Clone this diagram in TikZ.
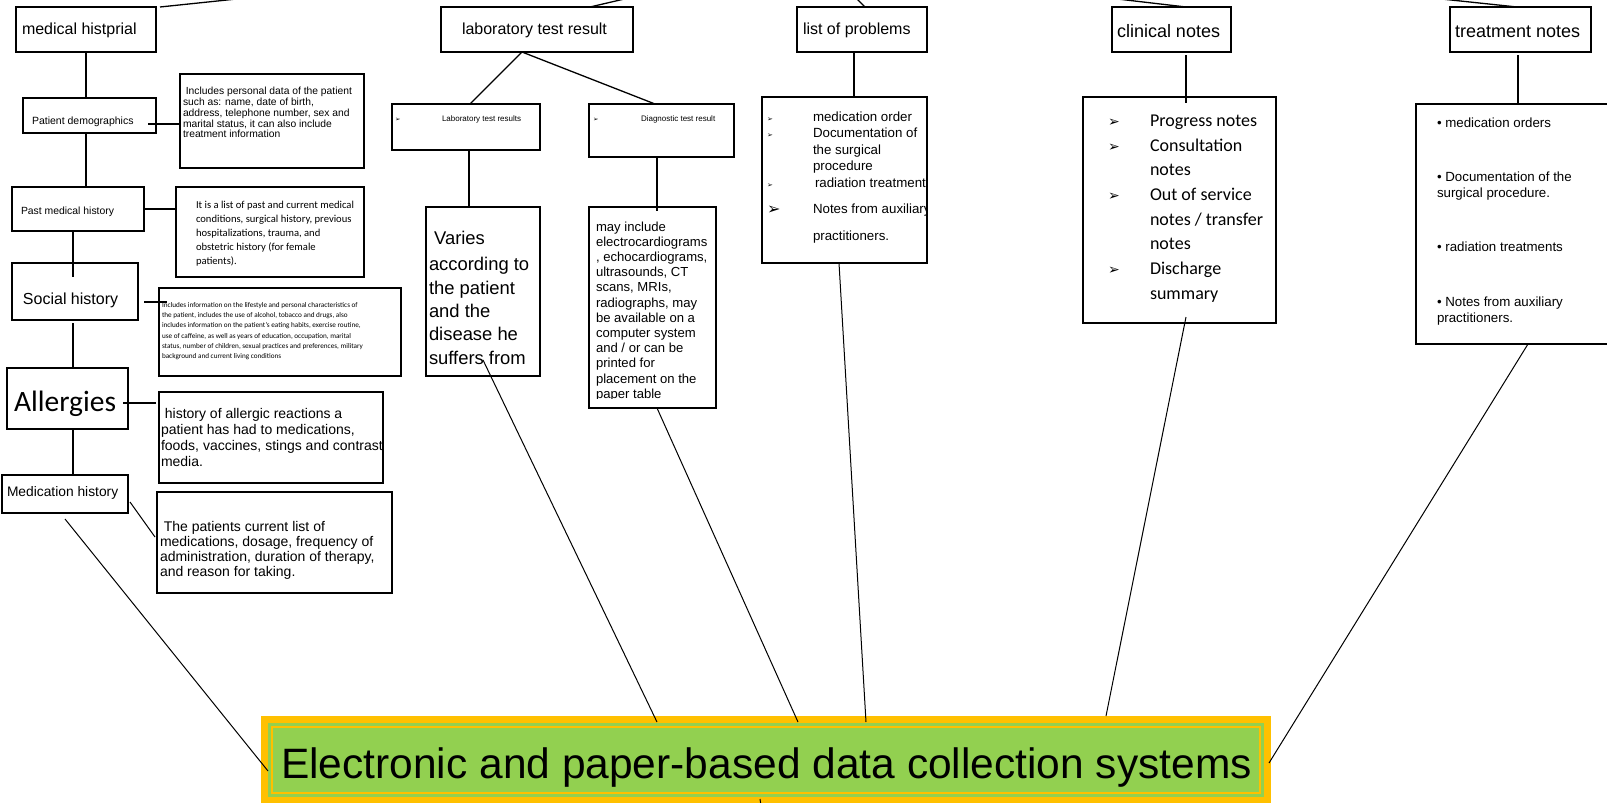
\documentclass[tikz,border=0pt]{standalone}
\usepackage{fontspec}
\setmainfont{Liberation Sans}
\newfontfamily\calf{Carlito}
\newfontfamily\djv{DejaVu Sans}
\usetikzlibrary{calc}
\definecolor{orgc}{HTML}{FFC000}
\definecolor{grnc}{HTML}{92D050}
\newcommand{\fsz}[2]{\fontsize{#1}{#2}\selectfont}
\begin{document}
\begin{tikzpicture}[x=1pt,y=-1pt,
  box/.style={draw, line width=1.3pt, anchor=north west, inner sep=0pt, outer sep=0pt},
  txt/.style={anchor=north west, inner sep=0pt, outer sep=0pt, align=left},
  lbl/.style={anchor=base west, inner sep=0pt, outer sep=0pt},
  conn/.style={line width=1.3pt},
  lnk/.style={line width=1pt},
  arrg/.style={anchor=base west, inner sep=0pt, outer sep=0pt}]
\useasboundingbox (0,0) rectangle (1607,803);
\clip (0,0) rectangle (1607,803);
% ---------- boxes
\node[box,minimum width=140pt,minimum height=45pt] (mh) at (16,7) {};
\node[box,minimum width=192pt,minimum height=45pt] (lab) at (441,7) {};
\node[box,minimum width=130pt,minimum height=45pt] (lop) at (797,7) {};
\node[box,minimum width=119pt,minimum height=45pt] (cn) at (1112,7) {};
\node[box,minimum width=141pt,minimum height=45pt] (tn) at (1450,7) {};
\node[box,minimum width=133pt,minimum height=35pt] (pd) at (23,98) {};
\node[box,minimum width=132pt,minimum height=44pt] (pmh) at (12,187) {};
\node[box,minimum width=126pt,minimum height=57pt] (sh) at (12,263) {};
\node[box,minimum width=121pt,minimum height=61pt] (al) at (7,368) {};
\node[box,minimum width=126pt,minimum height=38pt] (mhx) at (2,475) {};
\node[box,minimum width=184pt,minimum height=94pt] (d1) at (180,74) {};
\node[box,minimum width=188pt,minimum height=90pt] (d2) at (176,187) {};
\node[box,minimum width=242pt,minimum height=88pt] (d3) at (159,288) {};
\node[box,minimum width=224pt,minimum height=91pt] (d4) at (159,392) {};
\node[box,minimum width=235pt,minimum height=101pt] (d5) at (157,492) {};
\node[box,minimum width=148pt,minimum height=46pt] (ltr) at (392,104) {};
\node[box,minimum width=145pt,minimum height=53pt] (dtr) at (589,104) {};
\node[box,minimum width=114pt,minimum height=169pt] (var) at (426,207) {};
\node[box,minimum width=127pt,minimum height=201pt] (dd) at (589,207) {};
\node[box,minimum width=165pt,minimum height=166pt] (lopd) at (762,97) {};
\node[box,minimum width=193pt,minimum height=226pt] (cnd) at (1083,97) {};
\node[box,minimum width=210pt,minimum height=240pt] (tnd) at (1416,104) {};
% ---------- bottom box
\fill[orgc] (261,716) rectangle (1271,804);
\fill[grnc] (268,723) rectangle (1264,797);
\node[box, draw=orgc, fill=grnc, line width=2.5pt, minimum width=988pt, minimum height=66pt] (ebox) at (272,727) {};
\node[anchor=base, inner sep=0pt, font=\fsz{42.5}{48}] (etext) at (766.5,778) {Electronic and paper-based data collection systems};
% ---------- single-line labels
\node[lbl, font=\fsz{16}{18}] (mht) at (22,34.5) {medical histprial};
\node[lbl, font=\fsz{16}{18}] (labt) at (462,34.5) {laboratory test result};
\node[lbl, font=\fsz{16}{18}] (lopt) at (803,34.5) {list of problems};
\node[lbl, font=\fsz{18}{20}] (cnt) at (1117,37) {clinical notes};
\node[lbl, font=\fsz{18}{20}] (tnt) at (1455,37) {treatment notes};
\node[lbl, font=\fsz{10.5}{12}] (pdt) at (32,124) {Patient demographics};
\node[lbl, font=\fsz{10.4}{12}] (pmht) at (21,214) {Past medical history};
\node[lbl, font=\fsz{16}{18}] (sht) at (23,304) {Social history};
\node[lbl, font=\calf\fsz{29.5}{32}] (alt) at (14,411.7) {Allergies};
\node[lbl, font=\fsz{13.8}{15}] (mhxt) at (7,496.7) {Medication history};
\node[lbl, font=\fsz{8}{9}] (ltrt) at (442,121.5) {Laboratory test results};
\node[lbl, font=\fsz{8}{9}] (dtrt) at (641,121.5) {Diagnostic test result};
\node[arrg, font=\djv\fsz{6.5}{7}] (ar1) at (395,121) {➢};
\node[arrg, font=\djv\fsz{6.5}{7}] (ar2) at (593,121) {➢};
% ---------- multi-line texts
\node[txt, font=\fsz{10.3}{10.7}] (d1t) at (183,87.5) {\strut\ Includes personal data of the patient\\such as: name, date of birth,\\address, telephone number, sex and\\marital status, it can also include\\treatment information};
\node[txt, font=\calf\fsz{10.6}{14}] (d2t) at (196,198.6) {\strut It is a list of past and current medical\\conditions, surgical history, previous\\hospitalizations, trauma, and\\obstetric history (for female\\patients).};
\node[txt, font=\calf\fsz{7.2}{10.3}] (d3t) at (162,300.1) {\strut Includes information on the lifestyle and personal characteristics of\\the patient, includes the use of alcohol, tobacco and drugs, also\\includes information on the patient’s eating habits, exercise routine,\\use of caffeine, as well as years of education, occupation, marital\\status, number of children, sexual practices and preferences, military\\background and current living conditions};
\node[txt, font=\fsz{14}{16}] (d4t) at (161,406.8) {\strut\ history of allergic reactions a\\patient has had to medications,\\foods, vaccines, stings and contrast\\media.};
\node[txt, font=\fsz{14}{15.3}] (d5t) at (160,520.3) {\strut\ The patients current list of\\medications, dosage, frequency of\\administration, duration of therapy,\\and reason for taking.};
\node[txt, font=\fsz{18.4}{23.4}] (vart) at (429,227.9) {\strut\ Varies\\[3pt]according to\\the patient\\and the\\disease he\\suffers from};
\begin{scope}
\clip (589,207) rectangle (716,398.5);
\node[txt, font=\fsz{13.1}{15.2}] (ddt) at (596,220.4) {\strut may include\\electrocardiograms\\, echocardiograms,\\ultrasounds, CT\\scans, MRIs,\\radiographs, may\\be available on a\\computer system\\and / or can be\\printed for\\placement on the\\paper table};
\end{scope}
\begin{scope}
\clip (762,97) rectangle (926.4,263);
\node[txt, font=\fsz{13.3}{16.5}] (lopdt) at (813,109.5) {\strut medication order\\Documentation of\\the surgical\\procedure\\\hspace{2pt}radiation treatment\\[9.5pt]Notes from auxiliary\\[10.5pt]practitioners.};
\end{scope}
\node[arrg, font=\djv\fsz{7}{8}] (ar3) at (767,121) {➢};
\node[arrg, font=\djv\fsz{7}{8}] (ar4) at (767,137.5) {➢};
\node[arrg, font=\djv\fsz{7}{8}] (ar5) at (767,187) {➢};
\node[arrg, font=\djv\fsz{16}{18}] (ar6) at (767,214) {➢};
\node[txt, font=\calf\fsz{18}{24.7}] (cndt) at (1150,109.2) {\strut Progress notes\\Consultation\\notes\\Out of service\\notes / transfer\\notes\\Discharge\\summary};
\node[arrg, font=\djv\fsz{14}{16}] (ar7) at (1108,126.5) {➢};
\node[arrg, font=\djv\fsz{14}{16}] (ar8) at (1108,151.2) {➢};
\node[arrg, font=\djv\fsz{14}{16}] (ar9) at (1108,200.6) {➢};
\node[arrg, font=\djv\fsz{14}{16}] (ar10) at (1108,274.7) {➢};
\node[txt, font=\fsz{13.3}{16}] (tndt) at (1437,116.3) {\strut • medication orders\\[38pt]• Documentation of the\\surgical procedure.\\[38pt]• radiation treatments\\[39pt]• Notes from auxiliary\\practitioners.};
% ---------- free ends
\coordinate (u1) at (246.1,-2);
\coordinate (u2) at (628.6,-2);
\coordinate (u3) at (856,-2);
\coordinate (u4) at (1108.9,-2);
\coordinate (u5) at (1432.1,-2);
\coordinate (u6) at (761,806);
% ---------- top stubs
\draw[conn] ($(mh.north west)+(144,0)$) -- (u1);
\draw[conn] ($(lab.north west)+(149,0)$) -- (u2);
\draw[conn] ($(lop.north west)+(68,0)$) -- (u3);
\draw[conn] ($(cn.north west)+(74,0)$) -- (u4);
\draw[conn] ($(tn.north west)+(67,0)$) -- (u5);
% ---------- left column
\draw[conn] ($(mh.south west)+(70,0)$) -- ($(pd.north west)+(63,0)$);
\draw[conn] ($(pd.south west)+(63,0)$) -- ($(pmh.north west)+(74,0)$);
\draw[conn] ($(pmh.south west)+(61,0)$) -- ($(sh.north west)+(61,14)$);
\draw[conn] ($(sh.south west)+(61,3)$) -- ($(al.north west)+(66,0)$);
\draw[conn] ($(al.south west)+(66,0)$) -- ($(mhx.north west)+(71,0)$);
\draw[conn] ($(pd.north west)+(125,26)$) -- ($(d1.north west)+(0,50)$);
\draw[conn] (pmh.east) -- ($(d2.north west)+(0,22)$);
\draw[conn] ($(sh.north west)+(132,39)$) -- ($(d3.north west)+(8,14)$);
\draw[conn] ($(al.north west)+(116,35)$) -- ($(d4.north west)+(-3,11)$);
\draw[lnk] ($(mhx.north west)+(128,27)$) -- ($(d5.north west)+(-2,45)$);
% ---------- middle
\draw[conn] ($(lab.south west)+(81,0)$) -- ($(ltr.north west)+(78,0)$);
\draw[conn] ($(lab.south west)+(81,0)$) -- ($(dtr.north west)+(66,0)$);
\draw[conn] ($(ltr.south west)+(77,0)$) -- ($(var.north west)+(43,0)$);
\draw[conn] ($(dtr.south west)+(68,0)$) -- ($(dd.north west)+(68,4)$);
\draw[conn] ($(lop.south west)+(57,0)$) -- ($(lopd.north west)+(92,0)$);
\draw[conn] ($(cn.south west)+(74,3)$) -- ($(cnd.north west)+(103,6)$);
\draw[conn] ($(tn.south west)+(68,3)$) -- ($(tnd.north west)+(102,0)$);
% ---------- to the bottom box
\draw[lnk] ($(mhx.south west)+(63,6)$) -- ($(ebox.north west)+(-4,44)$);
\draw[lnk] ($(var.north west)+(57,153)$) -- ($(ebox.north west)+(385,-5)$);
\draw[lnk] ($(dd.south west)+(68,0)$) -- ($(ebox.north west)+(526,-5)$);
\draw[lnk] ($(lopd.south west)+(77,0)$) -- ($(ebox.north west)+(594,-5)$);
\draw[lnk] ($(cnd.north west)+(103,220)$) -- ($(ebox.north west)+(834,-11)$);
\draw[lnk] ($(tnd.south west)+(112,0)$) -- ($(ebox.north east)+(9,36)$);
\draw[lnk] ($(ebox.south west)+(488,6)$) -- (u6);
\end{tikzpicture}
\end{document}
